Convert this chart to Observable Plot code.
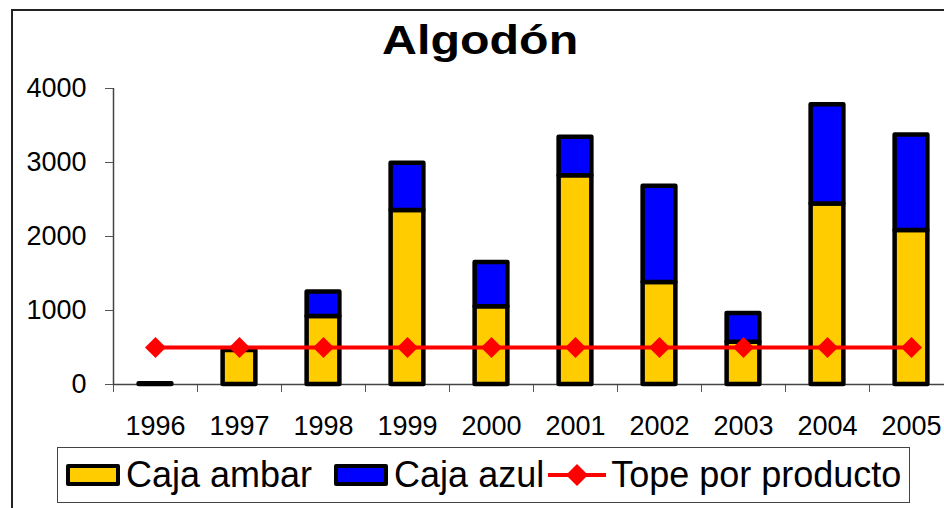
<!DOCTYPE html>
<html>
<head>
<meta charset="utf-8">
<script src="https://cdn.jsdelivr.net/npm/d3@7"></script>
<script src="https://cdn.jsdelivr.net/npm/@observablehq/plot@0.6"></script>
<style>
  html, body { margin: 0; padding: 0; background: #fff; overflow: hidden; }
  #wrap { position: relative; width: 944px; height: 508px; overflow: hidden; font-family: "Liberation Sans", Arial, sans-serif; }
  #frame { position: absolute; left: 11px; top: 9px; width: 1000px; height: 600px; border-left: 2px solid #222; border-top: 2px solid #222; }
  #title { position: absolute; left: 0; width: 960px; top: 15px; text-align: center; font-weight: bold; font-size: 41px; line-height: 50px; color: #000; }
  #title span { display: inline-block; transform: scaleX(1.18); }
  #chart { position: absolute; left: 0; top: 0; }
  #legend { position: absolute; left: 57px; top: 447px; width: 851px; height: 54px; border: 1.5px solid #444; display: flex; align-items: center; font-size: 36px; color: #000; }
  .sw { display: inline-block; width: 46px; height: 14px; border: 4px solid #000; border-radius: 2px; margin-right: 6px; }
  .item { display: flex; align-items: center; }
</style>
</head>
<body>
<div id="wrap">
  <div id="frame"></div>
  <div id="chart"></div>
  <div id="title"><span>Algodón</span></div>
  <div id="legend"></div>
</div>
<script>
const years = [1996, 1997, 1998, 1999, 2000, 2001, 2002, 2003, 2004, 2005];
const ambar = [10, 460, 920, 2350, 1050, 2820, 1380, 570, 2440, 2080];
const azul = [0, 0, 330, 640, 600, 520, 1300, 390, 1340, 1290];
const tope = [500, 500, 500, 500, 500, 500, 500, 500, 500, 500];
const yTicks = [0, 1000, 2000, 3000, 4000];
const seriesNames = ["Caja ambar", "Caja azul", "Tope por producto"];
const colors = ["#FFCC00", "#0000FF", "#FF0000"];

const rows = years.map((y, i) => ({year: y, ambar: ambar[i], azul: azul[i], tope: tope[i]}));
const bounds = years.map(y => y - 0.5);
const half = 0.195;

const chart = Plot.plot({
  width: 944,
  height: 445,
  marginLeft: 113,
  marginRight: -9,
  marginTop: 88,
  marginBottom: 61,
  style: {fontFamily: "'Liberation Sans', Arial, sans-serif", fontSize: "27px", color: "#000", background: "transparent", overflow: "hidden"},
  x: {domain: [years[0] - 0.5, years[years.length - 1] + 0.5], label: null},
  y: {domain: [0, 4000], label: null},
  marks: [
    Plot.axisY(yTicks, {tickSize: 8, tickPadding: 19, stroke: "#555", fill: "#000", fontSize: 27, tickFormat: d => String(d), label: null}),
    Plot.axisX(bounds, {tickSize: 8, stroke: "#555", tickFormat: () => "", label: null}),
    Plot.axisX(years, {tickSize: 0, tickPadding: 31, fill: "#000", fontSize: 27, tickFormat: d => String(d), label: null}),
    Plot.ruleX([years[0] - 0.5], {y1: 0, y2: 4000, stroke: "#444", strokeWidth: 1.5}),
    Plot.ruleY([0], {x1: years[0] - 0.5, x2: years[years.length - 1] + 0.5, stroke: "#444", strokeWidth: 1.5}),
    Plot.rectY(rows, {x1: d => d.year - half, x2: d => d.year + half, y1: 0, y2: "ambar", fill: colors[0], stroke: "#000", strokeWidth: 4.5, strokeLinejoin: "round"}),
    Plot.rectY(rows.filter(d => d.azul > 0), {x1: d => d.year - half, x2: d => d.year + half, y1: "ambar", y2: d => d.ambar + d.azul, fill: colors[1], stroke: "#000", strokeWidth: 4.5, strokeLinejoin: "round"}),
    Plot.line(rows, {x: "year", y: "tope", stroke: colors[2], strokeWidth: 4}),
    Plot.dot(rows, {x: "year", y: "tope", symbol: "diamond2", r: 9.5, fill: colors[2], stroke: "none"})
  ]
});
document.getElementById("chart").appendChild(chart);

// Legend
const legend = document.getElementById("legend");
seriesNames.forEach((name, i) => {
  const item = document.createElement("div");
  item.className = "item";
  if (i < 2) {
    const sw = document.createElement("span");
    sw.className = "sw";
    sw.style.background = colors[i];
    sw.style.marginLeft = i === 0 ? "8px" : "22px";
    item.appendChild(sw);
  } else {
    const ns = "http://www.w3.org/2000/svg";
    const svg = document.createElementNS(ns, "svg");
    svg.setAttribute("width", "58");
    svg.setAttribute("height", "24");
    svg.style.marginLeft = "4px";
    svg.style.marginRight = "5px";
    const ln = document.createElementNS(ns, "line");
    ln.setAttribute("x1", "0"); ln.setAttribute("x2", "58");
    ln.setAttribute("y1", "12"); ln.setAttribute("y2", "12");
    ln.setAttribute("stroke", colors[2]); ln.setAttribute("stroke-width", "4");
    svg.appendChild(ln);
    const dm = document.createElementNS(ns, "path");
    dm.setAttribute("d", "M29,1L40,12L29,23L18,12Z");
    dm.setAttribute("fill", colors[2]);
    svg.appendChild(dm);
    item.appendChild(svg);
  }
  const t = document.createElement("span");
  t.textContent = name;
  item.appendChild(t);
  legend.appendChild(item);
});
</script>
</body>
</html>
